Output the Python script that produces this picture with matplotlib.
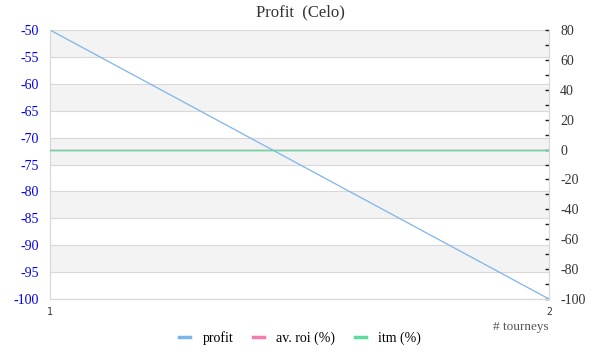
import numpy as np
import matplotlib.pyplot as plt
from matplotlib.ticker import MultipleLocator

tourneys = [1, 2]
profit = [-50, -100]
av_roi = [0, 0]
itm = [0, 0]

serif = ['Liberation Serif', 'DejaVu Serif']
plt.rcParams['axes.unicode_minus'] = False

fig = plt.figure(figsize=(6, 3.6), dpi=100)
ax = fig.add_axes([50/600, 1-299/360, 499/600, 269/360])
ax2 = ax.twinx()

# alternating bands on the left axis
for lo in range(-55, -100, -10):
	ax.axhspan(lo, lo + 5, color='#f3f3f3', zorder=0, lw=0)
for v in range(-100, -45, 5):
	ax.axhline(v, color='#d8d8d8', lw=0.8, zorder=1)

ln1, = ax.plot(tourneys, profit, color='#7cb5ec', lw=0.9, zorder=3)
ax.set_xlim(1, 2)
ax.set_ylim(-100, -50)
ax.yaxis.set_major_locator(MultipleLocator(5))
ax.set_xticks(tourneys)
ax.set_xticklabels([str(t) for t in tourneys], fontsize=7, family='DejaVu Sans Mono', color='#333333')
ax.tick_params(axis='x', length=0, pad=6)
ax.tick_params(axis='y', length=0, pad=8, labelcolor='#0000ee', labelsize=10)
for lab in ax.get_yticklabels():
	lab.set_family(serif)

ln2, = ax2.plot(tourneys, av_roi, color='#f07fae', lw=1.0, zorder=3)
ln3, = ax2.plot(tourneys, itm, color='#5ddba0', lw=1.0, zorder=4)
ax2.set_ylim(-100, 80)
ax2.yaxis.set_major_locator(MultipleLocator(20))
ax2.yaxis.set_minor_locator(MultipleLocator(10))
ax2.tick_params(axis='y', which='both', direction='in', length=3, width=1, color='#222222', pad=8, labelsize=10, labelcolor='#333333')
for lab in ax2.get_yticklabels():
	lab.set_family(serif)

for a in (ax, ax2):
	for s in a.spines.values():
		s.set_color('#d8d8d8')
		s.set_linewidth(0.8)
	a.spines['top'].set_visible(False)

fig.text(0.5, 1-12/360, 'Profit  (Celo)', ha='center', va='center', fontsize=12, color='#333333', family=serif)
fig.text(549/600, 1-327/360, '# tourneys', ha='right', va='center', fontsize=9.5, color='#555555', family=serif)
fig.legend([ln1, ln2, ln3], ['profit', 'av. roi (%)', 'itm (%)'], loc='center', bbox_to_anchor=(0.5, 1-338/360),
	ncol=3, frameon=False, prop={'family': serif, 'size': 10}, handlelength=0.8, columnspacing=1.4, handletextpad=0.9)
for l in fig.legends[0].get_lines():
	l.set_linewidth(2.5)

plt.savefig('out.png', dpi=100)
